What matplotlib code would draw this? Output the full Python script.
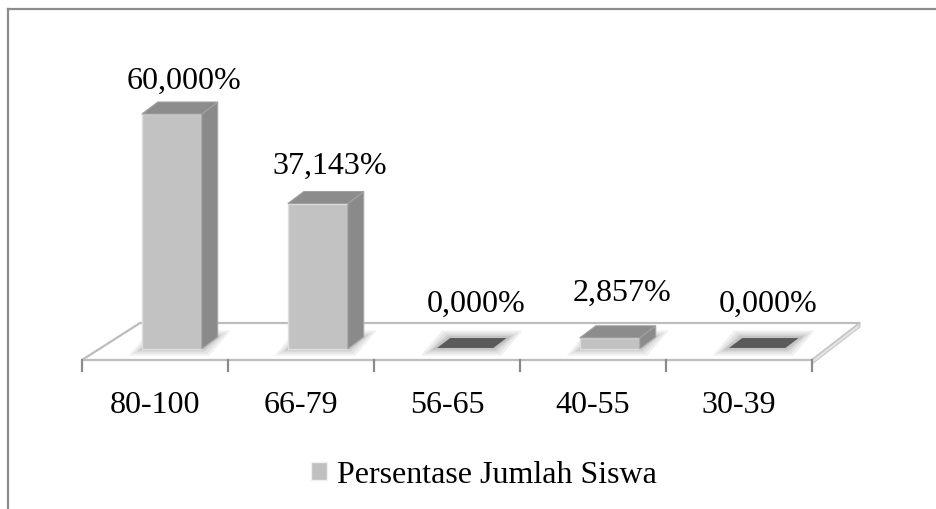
import matplotlib
matplotlib.use("Agg")
import matplotlib.pyplot as plt
from matplotlib.patches import Polygon, Patch
from matplotlib.lines import Line2D

categories = ["80-100", "66-79", "56-65", "40-55", "30-39"]
values = [60.000, 37.143, 0.000, 2.857, 0.000]
value_labels = ["60,000%", "37,143%", "0,000%", "2,857%", "0,000%"]
series_name = "Persentase Jumlah Siswa"

plt.rcParams["font.family"] = ["Liberation Serif", "DejaVu Serif"]
FS = 23

W, H = 936, 510
fig = plt.figure(figsize=(W / 100, H / 100), dpi=100)
fig.patch.set_facecolor("white")

# axes: x=0 -> 82px, x=5 -> 812px ; y=0 -> 350px, y=60 -> 115px
ax = fig.add_axes([82 / W, (H - 350) / H, 730 / W, 235 / H])
ax.set_xlim(0, len(categories))
ax.set_ylim(0, 60)
ax.axis("off")

px_y = 60 / 235.0   # data units per pixel vertically
px_x = 5 / 730.0    # data units per pixel horizontally

# floor
fy = -11 * px_y
by = 26 * px_y
n = len(categories)
floor = Polygon([(0, fy), (n, fy), (n + 48 * px_x, by), (58 * px_x, by)], closed=True,
                facecolor="white", edgecolor="#bdbdbd", lw=1.6, clip_on=False, zorder=1)
ax.add_patch(floor)
ax.add_patch(Polygon([(n, fy), (n + 48 * px_x, by), (n + 48 * px_x, by - 4 * px_y),
                      (n, fy - 4 * px_y)], closed=True, facecolor="#e4e4e4",
                     edgecolor="#c8c8c8", lw=0.8, clip_on=False, zorder=1))

# ticks
for i in range(n + 1):
    ax.add_line(Line2D([i, i], [fy, fy - 11 * px_y], color="#8a8a8a", lw=1.6,
                       clip_on=False, zorder=2))

off = 0.41
w = 0.41
dx = 16 * px_x
dy = 12 * px_y

for i, v in enumerate(values):
    x0 = i + off
    x1 = x0 + w
    for grow, col in [(13, "#f0f0f0"), (9, "#e2e2e2"), (5, "#d2d2d2"), (2, "#c6c6c6")]:
        gx = grow * px_x
        gy = grow * 0.5 * px_y
        ax.add_patch(Polygon([(x0 - gx, -gy), (x1 + gx * 0.6, -gy),
                              (x1 + dx + gx, dy + gy), (x0 + dx - gx * 0.6, dy + gy)],
                             closed=True, facecolor=col, edgecolor="none",
                             clip_on=False, zorder=3))
    if v > 0:
        ax.bar(x0, v, width=w, align="edge", color="#c2c2c2", edgecolor="#dedede",
               lw=1.0, zorder=5, clip_on=False)
        ax.add_patch(Polygon([(x1, 0), (x1 + dx, dy), (x1 + dx, v + dy), (x1, v)],
                             closed=True, facecolor="#8a8a8a", edgecolor="#a8a8a8",
                             lw=0.8, clip_on=False, zorder=5))
        top_col, top_edge, top_lw = "#8c8c8c", "#a0a0a0", 0.8
    else:
        top_col, top_edge, top_lw = "#5a5a5a", "#c4c4c4", 1.5
    ax.add_patch(Polygon([(x0, v), (x1, v), (x1 + dx, v + dy), (x0 + dx, v + dy)],
                         closed=True, facecolor=top_col, edgecolor=top_edge,
                         lw=top_lw, clip_on=False, zorder=6))
    label_y = v + (46 - 0.2 * v) * px_y
    ax.text(i + 0.7, label_y, value_labels[i], ha="center", va="center",
            fontsize=FS, color="black", clip_on=False, zorder=7)

for i, c in enumerate(categories):
    ax.text(i + 0.5, -56 * px_y, c, ha="center", va="center", fontsize=FS,
            color="black", clip_on=False)

# legend
handle = Patch(facecolor="#c0c0c0", edgecolor="#f0f0f0")
fig.legend([handle], [series_name], loc="center", bbox_to_anchor=(484 / W, 1 - 476 / H),
           frameon=False, fontsize=FS, handlelength=0.5, handleheight=0.5,
           handletextpad=0.3, borderpad=0)

# outer border (left and top visible)
fig.add_artist(Line2D([8 / W, 8 / W], [0, 1 - 10 / H], color="#8c8c8c", lw=1.6,
                      transform=fig.transFigure))
fig.add_artist(Line2D([8 / W, 1], [1 - 10 / H, 1 - 10 / H], color="#8c8c8c", lw=1.6,
                      transform=fig.transFigure))

fig.savefig("out.png", dpi=100, facecolor="white")
